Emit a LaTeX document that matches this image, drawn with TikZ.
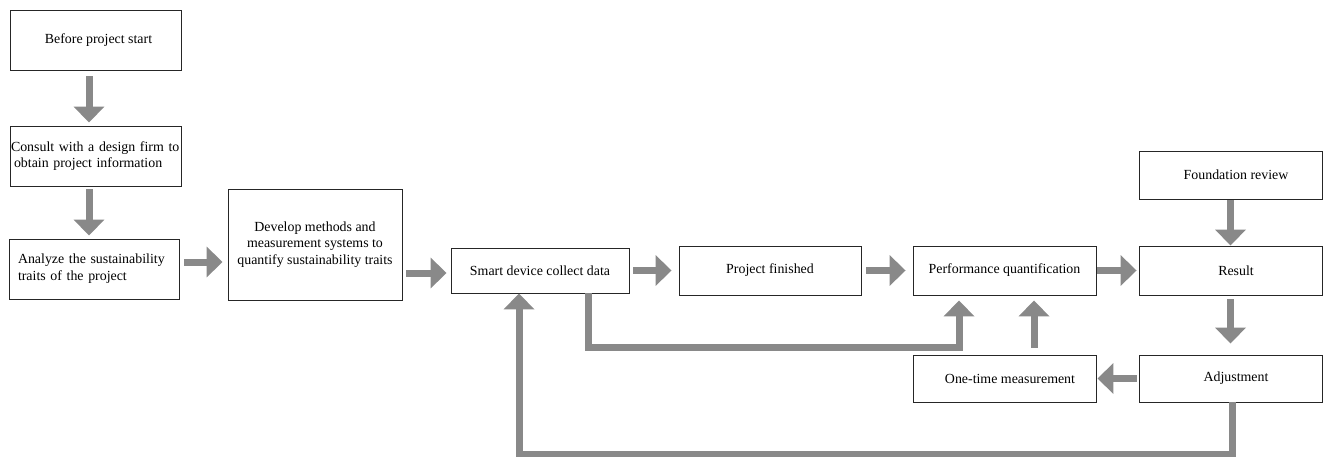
\documentclass[tikz,border=0pt]{standalone}
\usepackage{fontspec}
\setmainfont{Liberation Serif}
\usetikzlibrary{arrows.meta}
\definecolor{arrgray}{RGB}{137,137,137}
\begin{document}
\begin{tikzpicture}[x=1pt,y=-1pt,
  box/.style={draw=black!85, line width=0.9pt, rectangle, inner sep=0pt, align=center,
    font=\fontsize{13.9}{16.7}\selectfont},
  fat/.style={draw=arrgray, line width=7pt, line join=miter,
    -{Triangle[width=30pt,length=16pt]}}
]
\useasboundingbox (0,0) rectangle (1324,457);

\node[box, minimum width=171pt, minimum height=60pt] (b1) at (95.5,40) {\hspace*{6pt}Before project start};
\node[box, minimum width=171pt, minimum height=60pt, text width=169pt, align=left] (b2) at (95.5,156)
  {Consult with a design firm to\\[-0.5pt]\hspace*{3pt}obtain project information};
\node[box, minimum width=170pt, minimum height=60pt, text width=152pt, align=left] (b3) at (94,269)
  {Analyze the sustainability\\traits of the project};
\node[box, minimum width=174pt, minimum height=111pt] (b4) at (315,244.5)
  {Develop methods and\\measurement systems to\\quantify sustainability traits};
\node[box, minimum width=178pt, minimum height=45pt] (b5) at (540,270.5) {Smart device collect data};
\node[box, minimum width=182pt, minimum height=49pt] (b6) at (770,270.5) {Project finished};
\node[box, minimum width=183pt, minimum height=49pt] (b7) at (1004.5,270.5) {Performance quantification};
\node[box, minimum width=183pt, minimum height=49pt] (b8) at (1230.5,270.5) {\hspace*{11pt}Result};
\node[box, minimum width=183pt, minimum height=48pt] (b9) at (1230.5,175) {\hspace*{11pt}Foundation review};
\node[box, minimum width=183pt, minimum height=47pt] (b10) at (1230.5,378.5) {\hspace*{11pt}Adjustment};
\node[box, minimum width=183pt, minimum height=47pt] (b11) at (1004.5,378.5) {\hspace*{11pt}One-time measurement};

\draw[fat, shorten <=6pt, shorten >=3pt] ([xshift=-6.5pt]b1.south) -- ([xshift=-6.5pt]b2.north);
\draw[fat, shorten <=3pt, shorten >=3pt] ([xshift=-6.5pt]b2.south) -- ([xshift=-6.5pt]b2.south |- b3.north);
\draw[fat, shorten <=5pt, shorten >=5pt] ([yshift=7pt]b3.east) -- ([yshift=7pt]b3.east -| b4.west);
\draw[fat, shorten <=4pt, shorten >=4pt] ([yshift=-2.5pt]b4.east |- b5.west) -- ([yshift=-2.5pt]b5.west);
\draw[fat, shorten <=4pt, shorten >=7pt] (b5.east) -- (b6.west);
\draw[fat, shorten <=5pt, shorten >=7pt] (b6.east) -- (b7.west);
\draw[fat, shorten <=1pt, shorten >=2pt] (b7.east) -- (b8.west);
\draw[fat, shorten <=1pt] (b9.south) -- (b8.north);
\draw[fat, shorten <=4pt, shorten >=11pt] (b8.south) -- (b10.north);
\draw[fat, shorten <=2pt, shorten >=1pt] (b10.west) -- (b11.east);
\draw[fat, shorten <=7pt, shorten >=5pt] ([xshift=29.5pt]b11.north) -- ([xshift=29.5pt]b7.south);
\draw[fat, shorten >=5pt] ([xshift=48pt]b5.south) -- ++(0,54) -| ([xshift=-45.5pt]b7.south);
\draw[fat] ([xshift=1.5pt]b10.south) -- ++(0,52) -| ([xshift=-21pt]b5.south);
\end{tikzpicture}
\end{document}
